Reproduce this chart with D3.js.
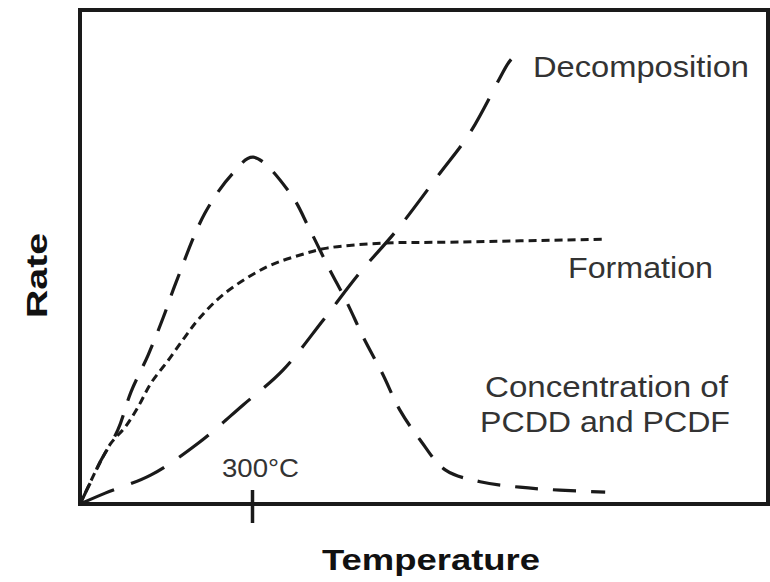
<!DOCTYPE html>
<html>
<head>
<meta charset="utf-8">
<script src="https://cdn.jsdelivr.net/npm/d3@7"></script>
<style>
  html, body { margin: 0; padding: 0; background: #fff; }
  svg { display: block; }
  text { font-family: "Liberation Sans", Arial, sans-serif; }
</style>
</head>
<body>
<svg id="chart" width="770" height="582"></svg>
<script>
// ---- data (Temperature in °C, Rate in arbitrary units 0-100) ----
const concTemp  = [0, 23, 35, 66, 89, 119, 145, 167, 218, 267, 302, 366, 401, 433, 466, 494, 527, 558, 593, 637, 698, 767, 837, 916];
const concRate  = [0, 5.5, 8.5, 15.0, 22.7, 30.2, 37.7, 44.7, 58.9, 67.0, 70.2, 63.0, 55.5, 48.0, 40.7, 33.8, 26.5, 19.0, 13.0, 6.9, 4.5, 3.4, 2.8, 2.4];

const formTemp  = [0, 31, 54, 79, 101, 124, 154, 183, 209, 253, 326, 384, 431, 529, 645, 916];
const formRate  = [0, 7.5, 12.3, 15.6, 19.6, 24.5, 29.1, 33.8, 37.7, 42.7, 48.0, 50.4, 51.8, 52.8, 53.0, 53.6];

const decoTemp  = [0, 44, 124, 206, 284, 354, 424, 488, 553, 628, 680, 745, 752];
const decoRate  = [0, 2.2, 5.9, 12.3, 20.0, 27.1, 37.2, 46.8, 55.5, 67.0, 75.1, 88.9, 90.0];

const tickValues = [300];
const tickLabels = ["300°C"];

const seriesNames = ["Decomposition", "Formation", "Concentration of", "PCDD and PCDF"];
const xTitle = "Temperature";
const yTitle = "Rate";

// ---- layout ----
const svg = d3.select("#chart");
const padL = 80, padR = 768, padT = 10, padB = 504;

const x = d3.scaleLinear().domain([0, 1200]).range([padL, padR]);
const y = d3.scaleLinear().domain([0, 100]).range([padB, padT]);

const line = d3.line()
  .x(d => x(d[0]))
  .y(d => y(d[1]))
  .curve(d3.curveCatmullRom.alpha(0.5));

const ink = "#1a1a1a";

// frame
svg.append("rect")
  .attr("x", padL).attr("y", padT)
  .attr("width", padR - padL).attr("height", padB - padT)
  .attr("fill", "none").attr("stroke", ink).attr("stroke-width", 4);

// x axis with single tick crossing the baseline
const axis = d3.axisBottom(x).tickValues(tickValues).tickSize(33).tickFormat("");
const gx = svg.append("g").attr("transform", `translate(0,${padB})`).call(axis);
gx.select(".domain").remove();
gx.selectAll(".tick line").attr("y1", -14).attr("y2", 19)
  .attr("stroke", ink).attr("stroke-width", 3.5);

// tick labels
svg.selectAll(".tlabel").data(tickValues).enter().append("text")
  .attr("class", "tlabel")
  .attr("x", d => x(d) - 30)
  .attr("y", 477)
  .attr("font-size", 26)
  .attr("fill", "#333")
  .attr("textLength", 77).attr("lengthAdjust", "spacingAndGlyphs")
  .text((d, i) => tickLabels[i]);

// curves
const zip = (a, b) => a.map((v, i) => [v, b[i]]);

svg.append("path")
  .datum(zip(concTemp, concRate))
  .attr("d", line)
  .attr("fill", "none").attr("stroke", ink).attr("stroke-width", 3.2)
  .attr("stroke-dasharray", "23,15");

svg.append("path")
  .datum(zip(formTemp, formRate))
  .attr("d", line)
  .attr("fill", "none").attr("stroke", ink).attr("stroke-width", 3)
  .attr("stroke-dasharray", "8,5");

svg.append("path")
  .datum(zip(decoTemp, decoRate))
  .attr("d", line)
  .attr("fill", "none").attr("stroke", ink).attr("stroke-width", 3.2)
  .attr("stroke-dasharray", "37,18");

// series labels
const lab = (t, xx, yy, len) => svg.append("text")
  .attr("x", xx).attr("y", yy)
  .attr("font-size", 29).attr("fill", "#333")
  .attr("textLength", len).attr("lengthAdjust", "spacingAndGlyphs")
  .text(t);

lab(seriesNames[0], 533, 77, 216);
lab(seriesNames[1], 568, 278, 145);
lab(seriesNames[2], 485, 397, 243);
lab(seriesNames[3], 480, 432, 250);

// axis titles
svg.append("text")
  .attr("x", 322).attr("y", 570)
  .attr("font-size", 30).attr("font-weight", "bold").attr("fill", "#111")
  .attr("textLength", 218).attr("lengthAdjust", "spacingAndGlyphs")
  .text(xTitle);

svg.append("text")
  .attr("transform", "translate(47,318) rotate(-90)")
  .attr("font-size", 30).attr("font-weight", "bold").attr("fill", "#111")
  .attr("textLength", 85).attr("lengthAdjust", "spacingAndGlyphs")
  .text(yTitle);
</script>
</body>
</html>
